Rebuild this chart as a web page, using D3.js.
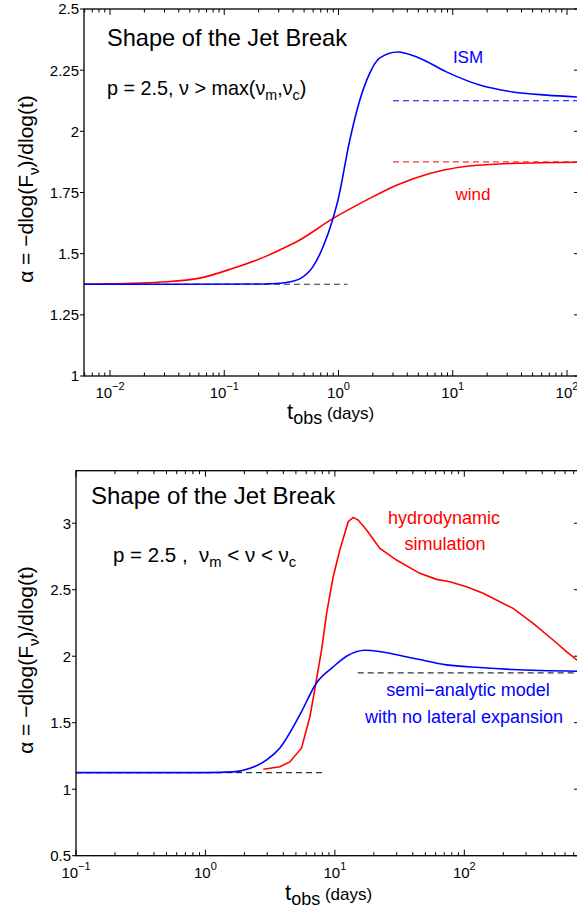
<!DOCTYPE html>
<html>
<head>
<meta charset="utf-8">
<script src="https://cdn.jsdelivr.net/npm/d3@7"></script>
<style>
body { margin: 0; background: #fff; }
text { font-family: "Liberation Sans", Arial, sans-serif; }
</style>
</head>
<body>
<script>
// ---- top panel: p = 2.5, nu > max(nu_m, nu_c) ----
var ismT = [0.00592, 0.05, 0.2, 0.25, 0.306, 0.398, 0.458, 0.596, 0.733, 0.891, 0.99, 1.256, 1.536, 1.879, 2.30, 3.30, 5.08, 8.81, 17.2, 33.5, 66, 127];
var ismA = [1.375, 1.375, 1.376, 1.377, 1.379, 1.387, 1.397, 1.446, 1.528, 1.641, 1.719, 1.964, 2.127, 2.238, 2.30, 2.324, 2.30, 2.243, 2.189, 2.161, 2.148, 2.140];
var windT = [0.00592, 0.00816, 0.0313, 0.0611, 0.119, 0.234, 0.306, 0.458, 0.897, 1.758, 3.22, 6.29, 12.3, 33.5, 127];
var windA = [1.375, 1.376, 1.385, 1.40, 1.44, 1.49, 1.515, 1.556, 1.644, 1.719, 1.78, 1.828, 1.855, 1.869, 1.874];
var topTicksY = [1, 1.25, 1.5, 1.75, 2, 2.25, 2.5];
var topTickLabels = ["1", "1.25", "1.5", "1.75", "2", "2.25", "2.5"];

// ---- bottom panel: p = 2.5, nu_m < nu < nu_c ----
var semiT = [0.1, 1.0, 1.64, 2.21, 2.97, 3.76, 5.37, 7.22, 9.70, 12.3, 17.05, 40.2, 72.9, 131.8, 238, 770];
var semiA = [1.125, 1.125, 1.13, 1.157, 1.22, 1.31, 1.56, 1.80, 1.92, 2.00, 2.045, 1.985, 1.935, 1.915, 1.90, 1.887];
var hydroT = [2.80, 3.76, 4.49, 5.53, 6.41, 7.13, 7.89, 8.63, 9.70, 10.93, 12.67, 13.85, 15.14, 17.57, 22.26, 29.95, 45.3, 61.0, 77.3, 104, 139.7, 238, 340, 485, 615, 770];
var hydroA = [1.150, 1.169, 1.205, 1.31, 1.545, 1.796, 2.047, 2.322, 2.598, 2.80, 3.011, 3.044, 3.024, 2.949, 2.811, 2.723, 2.623, 2.578, 2.56, 2.523, 2.473, 2.36, 2.247, 2.122, 2.034, 1.96];
var botTicksY = [0.5, 1, 1.5, 2, 2.5, 3];
var botTickLabels = ["0.5", "1", "1.5", "2", "2.5", "3"];

var svg = d3.select("body").append("svg")
  .attr("width", 577)
  .attr("height", 913);

function zip(ts, as) {
  return ts.map(function (t, i) { return { t: t, a: as[i] }; });
}

function drawPanel(cfg) {
  var x = d3.scaleLog().domain(cfg.xDomain).range([cfg.left, cfg.right]);
  var y = d3.scaleLinear().domain(cfg.yDomain).range([cfg.bottom, cfg.top]);
  var g = svg.append("g");

  var clipId = "clip" + cfg.id;
  svg.append("clipPath").attr("id", clipId)
    .append("rect")
    .attr("x", cfg.left).attr("y", cfg.top)
    .attr("width", cfg.right - cfg.left).attr("height", cfg.bottom - cfg.top);

  var plot = g.append("g").attr("clip-path", "url(#" + clipId + ")");

  // dashed asymptotes
  cfg.dashes.forEach(function (d) {
    plot.append("line")
      .attr("x1", x(d.t0)).attr("x2", x(d.t1))
      .attr("y1", y(d.a)).attr("y2", y(d.a))
      .attr("stroke", d.color)
      .attr("stroke-width", 1.1)
      .attr("stroke-dasharray", "6,4");
  });

  // curves
  cfg.series.forEach(function (s) {
    var line = d3.line()
      .x(function (d) { return x(d.t); })
      .y(function (d) { return y(d.a); })
      .curve(s.curve);
    plot.append("path")
      .datum(zip(s.t, s.a))
      .attr("d", line)
      .attr("fill", "none")
      .attr("stroke", s.color)
      .attr("stroke-width", 1.6);
  });

  // box
  g.append("rect")
    .attr("x", cfg.left).attr("y", cfg.top)
    .attr("width", cfg.right - cfg.left).attr("height", cfg.bottom - cfg.top)
    .attr("fill", "none").attr("stroke", "#000").attr("stroke-width", 1.3);

  // x ticks (log, inward top and bottom)
  x.ticks().forEach(function (t) {
    var lg = Math.log10(t);
    var major = Math.abs(lg - Math.round(lg)) < 1e-6;
    var len = major ? 6 : 3.5;
    var px = x(t);
    g.append("line").attr("x1", px).attr("x2", px)
      .attr("y1", cfg.bottom).attr("y2", cfg.bottom - len)
      .attr("stroke", "#000").attr("stroke-width", 1);
    g.append("line").attr("x1", px).attr("x2", px)
      .attr("y1", cfg.top).attr("y2", cfg.top + len)
      .attr("stroke", "#000").attr("stroke-width", 1);
    if (major) {
      var e = Math.round(lg);
      var lab = g.append("text")
        .attr("x", px).attr("y", cfg.bottom + 22)
        .attr("text-anchor", "middle")
        .style("font-size", "15px");
      lab.append("tspan").text("10");
      lab.append("tspan").attr("dy", -8).style("font-size", "11px")
        .text(e < 0 ? "\u2212" + (-e) : String(e));
    }
  });

  // y ticks (outward on left, inward on right)
  cfg.yTicks.forEach(function (v, i) {
    var py = y(v);
    g.append("line").attr("x1", cfg.left - 4).attr("x2", cfg.left)
      .attr("y1", py).attr("y2", py)
      .attr("stroke", "#000").attr("stroke-width", 1);
    g.append("line").attr("x1", cfg.right).attr("x2", cfg.right - 5)
      .attr("y1", py).attr("y2", py)
      .attr("stroke", "#000").attr("stroke-width", 1);
    g.append("text")
      .attr("x", cfg.left - 5).attr("y", py)
      .attr("dy", "0.36em")
      .attr("text-anchor", "end")
      .style("font-size", "15px")
      .text(cfg.yLabels[i]);
  });

  // y axis label
  var yl = g.append("text")
    .attr("transform", "translate(33," + cfg.yLabelMid + ") rotate(-90)")
    .attr("text-anchor", "middle")
    .style("font-size", "21px");
  yl.append("tspan").text("\u03b1 = \u2212dlog(F");
  yl.append("tspan").attr("dy", 6).style("font-size", "15px").text("\u03bd");
  yl.append("tspan").attr("dy", -6).text(")/dlog(t)");

  // x axis label
  var xl = g.append("text")
    .attr("x", cfg.xLabelX).attr("y", cfg.xLabelY)
    .style("font-size", "22px");
  xl.append("tspan").text("t");
  xl.append("tspan").attr("dy", 5).style("font-size", "18px").text("obs");
  xl.append("tspan").attr("dy", -5).style("font-size", "17px").text(" (days)");

  // annotations
  cfg.notes.forEach(function (n) {
    var tx = g.append("text")
      .attr("x", n.x).attr("y", n.y)
      .attr("text-anchor", n.anchor || "start")
      .attr("fill", n.color || "#000")
      .attr("xml:space", "preserve")
      .style("white-space", "pre")
      .style("font-size", n.size + "px");
    n.parts.forEach(function (p) {
      var sp = tx.append("tspan").text(p.s);
      if (p.sub) {
        sp.attr("dy", 5).style("font-size", (n.size * 0.72) + "px");
      } else if (p.back) {
        sp.attr("dy", -5);
      }
    });
  });
}

drawPanel({
  id: "top",
  left: 84, right: 579, top: 9, bottom: 376,
  xDomain: [0.005922, 127.4], yDomain: [1, 2.5],
  yTicks: topTicksY, yLabels: topTickLabels,
  yLabelMid: 189, xLabelX: 287, xLabelY: 419,
  dashes: [
    { t0: 0.005922, t1: 1.2, a: 1.375, color: "#333" },
    { t0: 3.0, t1: 127.4, a: 2.125, color: "#0000ff" },
    { t0: 3.0, t1: 127.4, a: 1.875, color: "#ff3333" }
  ],
  series: [
    { t: windT, a: windA, color: "#ff0000", curve: d3.curveMonotoneX },
    { t: ismT, a: ismA, color: "#0000ff", curve: d3.curveMonotoneX }
  ],
  notes: [
    { x: 107, y: 46, size: 23.6, parts: [{ s: "Shape of the Jet Break" }] },
    { x: 107, y: 95, size: 19.8, parts: [
      { s: "p = 2.5, \u03bd > max(\u03bd" }, { s: "m", sub: true },
      { s: ",\u03bd", back: true }, { s: "c", sub: true }, { s: ")", back: true }] },
    { x: 468, y: 63, size: 17, anchor: "middle", color: "#0000ff", parts: [{ s: "ISM" }] },
    { x: 473, y: 200, size: 17, anchor: "middle", color: "#ff0000", parts: [{ s: "wind" }] }
  ]
});

drawPanel({
  id: "bot",
  left: 76, right: 579, top: 470.7, bottom: 855.7,
  xDomain: [0.1, 769], yDomain: [0.5, 3.395],
  yTicks: botTicksY, yLabels: botTickLabels,
  yLabelMid: 660, xLabelX: 285, xLabelY: 900,
  dashes: [
    { t0: 0.1, t1: 8.0, a: 1.125, color: "#333" },
    { t0: 15, t1: 769, a: 1.875, color: "#333" }
  ],
  series: [
    { t: hydroT, a: hydroA, color: "#ff0000", curve: d3.curveLinear },
    { t: semiT, a: semiA, color: "#0000ff", curve: d3.curveMonotoneX }
  ],
  notes: [
    { x: 91, y: 504, size: 24, parts: [{ s: "Shape of the Jet Break" }] },
    { x: 113, y: 562, size: 20.5, parts: [
      { s: "p = 2.5 ,  \u03bd" }, { s: "m", sub: true },
      { s: " < \u03bd < \u03bd", back: true }, { s: "c", sub: true }] },
    { x: 444, y: 524, size: 18, anchor: "middle", color: "#ff0000", parts: [{ s: "hydrodynamic" }] },
    { x: 445, y: 550, size: 18, anchor: "middle", color: "#ff0000", parts: [{ s: "simulation" }] },
    { x: 468, y: 696, size: 18, anchor: "middle", color: "#0000ff", parts: [{ s: "semi\u2212analytic model" }] },
    { x: 464, y: 723, size: 18, anchor: "middle", color: "#0000ff", parts: [{ s: "with no lateral expansion" }] }
  ]
});
</script>
</body>
</html>
